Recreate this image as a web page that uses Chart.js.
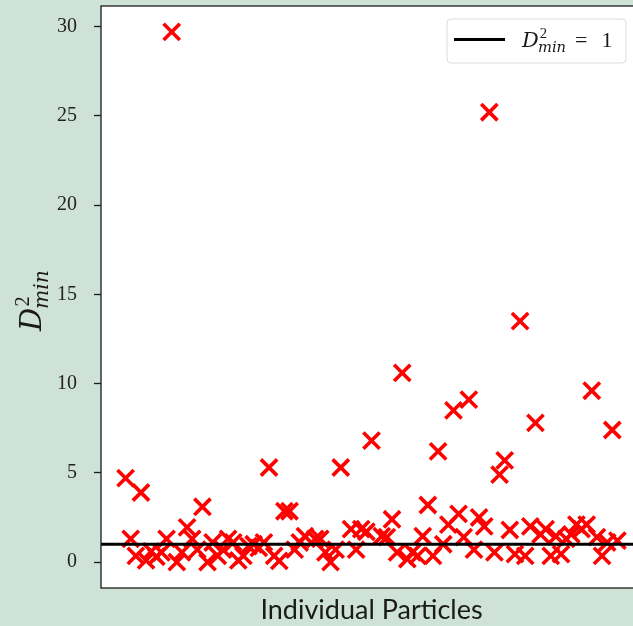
<!DOCTYPE html>
<html>
<head>
<meta charset="utf-8">
<script src="https://cdn.jsdelivr.net/npm/chart.js@4.4.0/dist/chart.umd.min.js"></script>
<style>
  html, body { margin: 0; padding: 0; background: #cfe2d8; overflow: hidden; }
  #wrap { position: relative; width: 650px; height: 626px; }
</style>
</head>
<body>
<div id="wrap"><canvas id="c"></canvas></div>
<script>
// Particle index along the x axis and its non-affine displacement D²_min
const particleIndex = [
  0, 1, 2, 3, 4, 5, 6, 7, 8, 9,
  10, 11, 12, 13, 14, 15, 16, 17, 18, 19,
  20, 21, 22, 23, 24, 25, 26, 27, 28, 29,
  30, 31, 32, 33, 34, 35, 37, 38, 39, 40,
  41, 42, 44, 45, 46, 47, 48, 50, 51, 52,
  53, 54, 55, 56, 57, 58, 59, 60, 61, 62,
  63, 64, 65, 66, 67, 68, 69, 70, 71, 72,
  73, 74, 75, 76, 77, 78, 79, 80, 81, 82,
  83, 84, 85, 86, 87, 88, 89, 90, 91, 92,
  93, 94, 95, 96
];
const d2min = [
  4.7, 1.3, 0.35, 3.9, 0.1, 0.6, 0.3, 0.55, 1.3, 29.7,
  0.0, 0.55, 1.95, 1.3, 0.7, 3.1, 0.0, 1.1, 0.35, 0.7,
  1.3, 1.1, 0.1, 0.35, 0.9, 1.0, 0.8, 1.1, 5.3, 0.35,
  0.07, 2.85, 2.85, 0.7, 1.1, 1.45, 1.3, 1.3, 0.55, 0.0,
  0.7, 5.3, 1.85, 0.7, 1.85, 1.7, 6.8, 1.45, 1.4, 2.4,
  0.55, 10.6, 0.17, 0.55, 0.35, 1.45, 3.2, 0.35, 6.2, 1.0,
  2.1, 8.5, 2.7, 1.4, 9.1, 0.7, 2.5, 2.0, 25.2, 0.55,
  4.9, 5.7, 1.8, 0.45, 13.5, 0.35, 2.0, 7.8, 1.55, 1.85,
  0.35, 1.45, 0.45, 1.3, 1.55, 2.1, 1.85, 2.1, 9.6, 1.4,
  0.35, 1.1, 7.4, 1.2
];
const thresholdValue = 1;
const yTickValues = [0, 5, 10, 15, 20, 25, 30];
const xAxisLabel = 'Individual Particles';

// axis ranges (data range plus a 5% margin on each side)
const xMin = -4.8, xMax = 100.8;
const yMin = -1.45, yMax = 31.15;

const SERIF = '"Liberation Serif", "DejaVu Serif", serif';
const MATH = '"DejaVu Serif", "Liberation Serif", serif';

// Draws the symbol D²_min starting at (x, y) on the baseline; returns its width
function drawDmin(ctx, x, y, size, color) {
  ctx.save();
  ctx.fillStyle = color;
  ctx.textAlign = 'left';
  ctx.textBaseline = 'alphabetic';
  ctx.font = `italic ${size}px ${MATH}`;
  ctx.fillText('D', x, y);
  const wD = ctx.measureText('D').width;
  const small = size * 0.7;
  ctx.font = `${small}px ${SERIF}`;
  const supX = x + wD + size * 0.04;
  ctx.fillText('2', supX, y - size * 0.42);
  const w2 = ctx.measureText('2').width;
  ctx.font = `italic ${small}px ${MATH}`;
  const subX = x + wD - size * 0.04;
  ctx.fillText('min', subX, y + size * 0.24);
  const wMin = ctx.measureText('min').width;
  ctx.restore();
  return Math.max(supX + w2, subX + wMin) - x;
}

const decorations = {
  id: 'decorations',
  beforeDraw(chart) {
    const { ctx, chartArea: a } = chart;
    ctx.save();
    ctx.fillStyle = '#ffffff';
    ctx.fillRect(a.left, a.top, a.right - a.left, a.bottom - a.top);
    ctx.restore();
  },
  afterDatasetsDraw(chart) {
    const { ctx, chartArea: a } = chart;
    ctx.save();
    ctx.strokeStyle = '#1a1a1a';
    ctx.lineWidth = 1.3;
    ctx.strokeRect(a.left, a.top, a.right - a.left, a.bottom - a.top);
    ctx.restore();
  },
  afterDraw(chart) {
    const { ctx } = chart;
    // y-axis label, rotated
    ctx.save();
    ctx.translate(41, 331);
    ctx.rotate(-Math.PI / 2);
    drawDmin(ctx, 0, 0, 29, '#1a1a1a');
    ctx.restore();

    // legend box
    const bx = 447, by = 19, bw = 179, bh = 44, r = 4;
    ctx.save();
    ctx.beginPath();
    ctx.moveTo(bx + r, by);
    ctx.lineTo(bx + bw - r, by);
    ctx.quadraticCurveTo(bx + bw, by, bx + bw, by + r);
    ctx.lineTo(bx + bw, by + bh - r);
    ctx.quadraticCurveTo(bx + bw, by + bh, bx + bw - r, by + bh);
    ctx.lineTo(bx + r, by + bh);
    ctx.quadraticCurveTo(bx, by + bh, bx, by + bh - r);
    ctx.lineTo(bx, by + r);
    ctx.quadraticCurveTo(bx, by, bx + r, by);
    ctx.closePath();
    ctx.fillStyle = 'rgba(255,255,255,0.85)';
    ctx.fill();
    ctx.strokeStyle = '#dcdcdc';
    ctx.lineWidth = 1;
    ctx.stroke();
    // legend line sample
    ctx.beginPath();
    ctx.moveTo(454, 39.5);
    ctx.lineTo(505, 39.5);
    ctx.strokeStyle = '#000000';
    ctx.lineWidth = 3;
    ctx.stroke();
    ctx.restore();
    // legend text: D²_min = 1
    const w = drawDmin(ctx, 522, 47, 21, '#1a1a1a');
    ctx.save();
    ctx.fillStyle = '#1a1a1a';
    ctx.font = `22px ${SERIF}`;
    ctx.textBaseline = 'alphabetic';
    const eqX = 522 + w + 9;
    ctx.fillText('=', eqX, 47);
    ctx.fillText(String(thresholdValue), eqX + ctx.measureText('=').width + 14, 47);
    ctx.restore();
  }
};

const points = particleIndex.map((x, i) => ({ x, y: d2min[i] }));

new Chart(document.getElementById('c'), {
  type: 'scatter',
  data: {
    datasets: [
      {
        type: 'line',
        label: 'threshold',
        data: [{ x: xMin, y: thresholdValue }, { x: xMax, y: thresholdValue }],
        borderColor: '#000000',
        borderWidth: 3,
        pointRadius: 0,
        showLine: true,
        fill: false
      },
      {
        label: 'D2min',
        data: points,
        pointStyle: 'crossRot',
        pointRadius: 11.5,
        pointBorderWidth: 3.6,
        pointBorderColor: '#ff0000',
        pointBackgroundColor: '#ff0000',
        borderColor: '#ff0000'
      }
    ]
  },
  options: {
    responsive: true,
    maintainAspectRatio: false,
    animation: false,
    events: [],
    layout: { autoPadding: false, padding: { top: 6, right: 8, left: 0, bottom: 0 } },
    plugins: { legend: { display: false }, tooltip: { enabled: false } },
    scales: {
      x: {
        type: 'linear',
        min: xMin,
        max: xMax,
        ticks: { display: false },
        grid: { display: false },
        border: { display: false },
        title: {
          display: true,
          text: xAxisLabel,
          color: '#1a1a1a',
          font: { family: 'Lato', size: 27, lineHeight: 1 },
          padding: { top: 0, bottom: 2 }
        },
        afterFit(scale) {
          scale.height = 38;
          scale.paddingLeft = 0;
          scale.paddingRight = 0;
        }
      },
      y: {
        type: 'linear',
        min: yMin,
        max: yMax,
        afterBuildTicks(scale) { scale.ticks = yTickValues.map(v => ({ value: v })); },
        ticks: {
          color: '#222222',
          padding: 17,
          font: { family: 'Liberation Serif', size: 20 }
        },
        grid: {
          display: true,
          drawOnChartArea: false,
          drawTicks: true,
          tickLength: 7,
          tickWidth: 1.3,
          tickColor: '#1a1a1a'
        },
        border: { display: false },
        afterFit(scale) {
          scale.width = 101;
          scale.paddingTop = 0;
          scale.paddingBottom = 0;
        }
      }
    }
  },
  plugins: [decorations]
});
</script>
</body>
</html>
